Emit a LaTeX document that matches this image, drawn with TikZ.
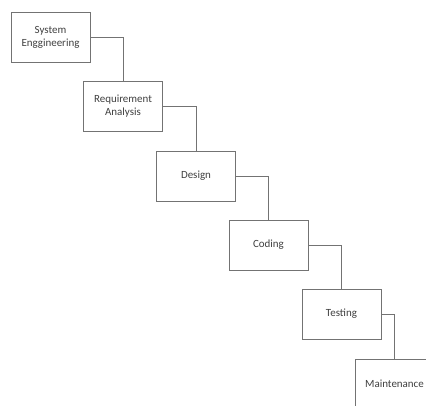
\documentclass[tikz,border=0pt]{standalone}
\usepackage{fontspec}
\setmainfont{Carlito}
\begin{document}
\begin{tikzpicture}[x=1bp,y=-1bp,
  stage/.style={draw=black!55, line width=0.9bp, fill=white, minimum width=79bp, minimum height=50bp,
    align=center, font=\fontsize{11}{13}\selectfont, text=black!75, inner sep=0pt},
  link/.style={draw=black!55, line width=0.9bp}]
\useasboundingbox (0,0) rectangle (426,406);
\clip (0,0) rectangle (426,406);
\node[stage] (b1) at (50.5,37) {System\\Enggineering};
\node[stage] (b2) at (123,106.5) {Requirement\\Analysis};
\node[stage] (b3) at (196,176) {Design};
\node[stage] (b4) at (268.5,245) {Coding};
\node[stage] (b5) at (341.5,314) {Testing};
\node[stage] (b6) at (394.5,384) {Maintenance};
\draw[link] (b1.east) -| (b2.north);
\draw[link] (b2.east) -| (b3.north);
\draw[link] (b3.east) -| (b4.north);
\draw[link] (b4.east) -| (b5.north);
\draw[link] (b5.east) -| (b6.north);
\end{tikzpicture}
\end{document}
